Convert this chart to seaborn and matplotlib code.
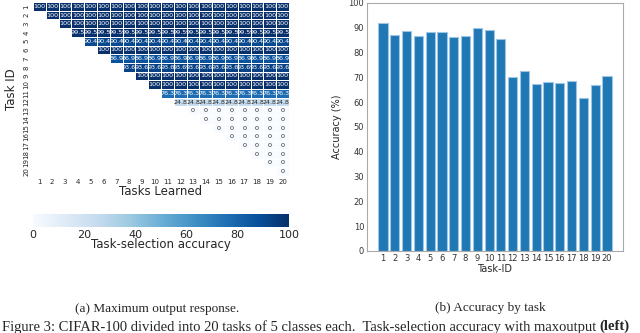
import numpy as np
import pandas as pd
import matplotlib
matplotlib.use("Agg")
import matplotlib.pyplot as plt
import seaborn as sns

# task-selection accuracy per task (constant once the task is learned)
task_ids = list(range(1, 21))
row_acc = [100, 100, 100, 99.5, 90.4, 100, 86.9, 93.6, 100, 100,
           76.3, 24.8, 0, 0, 0, 0, 0, 0, 0, 0]

# accuracy by task (right panel)
task_labels = [str(t) for t in task_ids]
task_acc = [92.0, 87.2, 88.7, 86.8, 88.4, 88.4, 86.1, 86.7, 89.9, 89.1,
            85.4, 70.3, 72.6, 67.5, 68.2, 67.8, 68.5, 61.8, 67.1, 70.7]

sns.set_style("white")
plt.rcParams["font.family"] = ["DejaVu Sans"]
serif = ["Liberation Serif", "DejaVu Serif"]

W, H = 640, 333
fig = plt.figure(figsize=(W / 100, H / 100), dpi=100)

def box(x0, y0, x1, y1):
    return [x0 / W, 1 - y1 / H, (x1 - x0) / W, (y1 - y0) / H]

# heatmap matrix: rows = task id, cols = tasks learned
n = len(task_ids)
mat = np.array([[row_acc[i] if j >= i else np.nan for j in range(n)] for i in range(n)])
df = pd.DataFrame(mat, index=task_ids, columns=task_ids)
mask = np.isnan(mat)

ax1 = fig.add_axes(box(33, 2, 289, 176))
cax = fig.add_axes(box(33, 214, 289, 227))
sns.heatmap(df, ax=ax1, cmap="Blues", vmin=0, vmax=100, mask=mask,
            annot=True, fmt="g", annot_kws={"fontsize": 4.6},
            linewidths=0.6, linecolor="white",
            xticklabels=True, yticklabels=True,
            cbar_ax=cax, cbar_kws={"orientation": "horizontal", "ticks": [0, 20, 40, 60, 80, 100]})
ax1.set_ylabel("Task ID", fontsize=8.5)
ax1.set_xlabel("Tasks Learned", fontsize=8.5, labelpad=0)
ax1.tick_params(axis="both", labelsize=5, length=1.5, pad=1)
ax1.tick_params(axis="y", labelrotation=90)
ax1.tick_params(axis="x", labelrotation=0)
for t in ax1.get_yticklabels():
    t.set_va("center")
cax.tick_params(labelsize=8, length=0, pad=2)
cax.set_xlabel("Task-selection accuracy", fontsize=8.5, labelpad=-1)
for s in cax.spines.values():
    s.set_visible(False)

# bar chart
ax2 = fig.add_axes(box(367, 3, 623, 251))
sns.barplot(x=task_labels, y=task_acc, ax=ax2, color="#1f77b4", saturation=1,
            width=0.78, edgecolor="#9ec5e6", linewidth=0.8)
ax2.set_ylim(0, 100)
ax2.set_yticks(range(0, 101, 10))
ax2.set_xlim(-1.36, 20.36)
ax2.set_xlabel("Task-ID", fontsize=7, labelpad=1)
ax2.set_ylabel("Accuracy (%)", fontsize=7, labelpad=5)
ax2.tick_params(axis="both", labelsize=6, length=0, pad=2, colors="#333333")
for s in ax2.spines.values():
    s.set_color("#aaaaaa")
    s.set_linewidth(0.8)

# captions
fig.text(157 / W, 1 - 309 / H, "(a) Maximum output response.", ha="center", va="center",
         fontsize=9.5, family=serif)
fig.text(490 / W, 1 - 308 / H, "(b) Accuracy by task", ha="center", va="center",
         fontsize=9.5, family=serif)
main = fig.text(2 / W, 1 - 320 / H,
                "Figure 3: CIFAR-100 divided into 20 tasks of 5 classes each.  Task-selection accuracy with maxoutput ",
                ha="left", va="top", fontsize=10.5, family=serif)
fig.canvas.draw()
bb = main.get_window_extent(fig.canvas.get_renderer())
fig.text(bb.x1 / W, 1 - 320 / H, "(left)", ha="left", va="top",
         fontsize=10.5, fontweight="bold", family=serif)

fig.savefig("out.png", dpi=100)
